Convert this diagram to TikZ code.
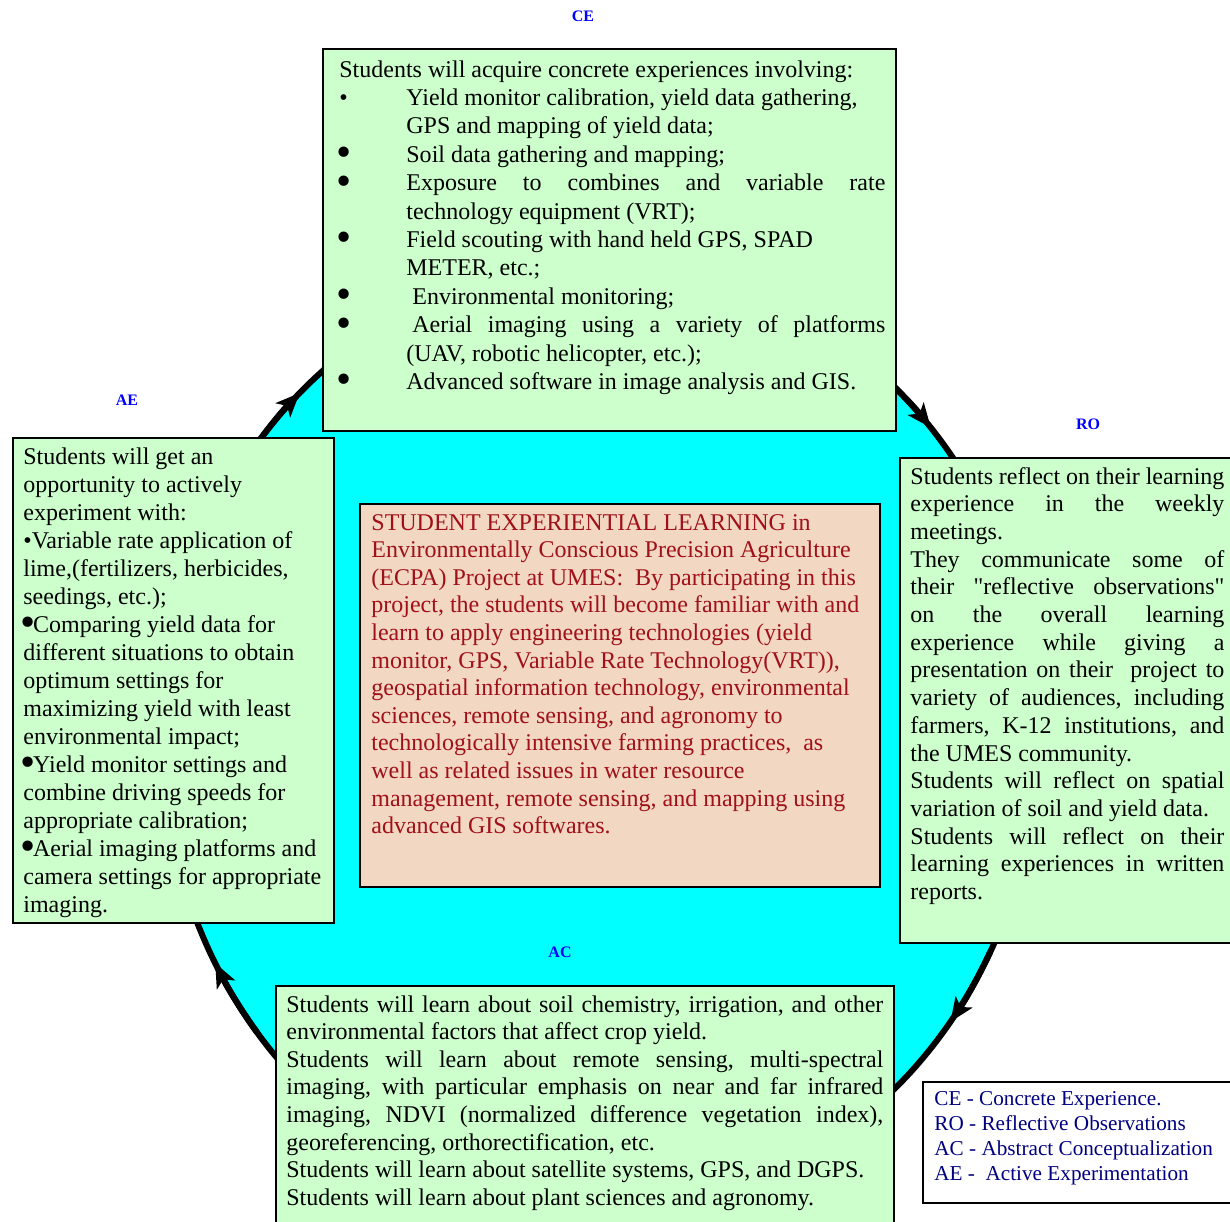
\documentclass[tikz,border=0pt]{standalone}
\usepackage{fontspec}
\setmainfont{Liberation Serif}[Ligatures=TeXOff]
\usetikzlibrary{arrows.meta,calc}
\definecolor{gboxc}{RGB}{204,255,204}
\definecolor{peachc}{RGB}{242,215,194}
\definecolor{redtxt}{RGB}{160,16,24}
\definecolor{navytxt}{RGB}{0,0,128}
\definecolor{labblue}{RGB}{0,0,255}
\definecolor{cyanc}{RGB}{0,255,255}
\newcommand{\jl}[2]{{\spaceskip=0pt\xspaceskip=0pt\makebox[#1][s]{#2}}}
\newcommand{\bigbul}{\hspace*{-1.5pt}\raisebox{-2.2pt}{\scalebox{1.8}{•}}\hspace{-1.2pt}}
\newcommand{\bulc}[1]{\makebox[33.5pt][l]{#1}}
\newcommand{\nsp}{\spaceskip=0pt\xspaceskip=0pt\frenchspacing}
\begin{document}
\begin{tikzpicture}[x=0.5pt,y=-0.5pt,
  gbox/.style={draw=black, line width=1pt, fill=gboxc, anchor=north west, inner sep=0pt},
  pbox/.style={draw=black, line width=1pt, fill=peachc, anchor=north west, inner sep=0pt},
  lbox/.style={draw=black, line width=1.2pt, fill=white, anchor=north west, inner sep=0pt},
  txt/.style={anchor=base west, inner sep=0pt, execute at begin node=\nsp},
  lab/.style={text=labblue, font=\fontsize{8pt}{9pt}\selectfont\bfseries, inner sep=0pt},
  cyc/.style={line width=3pt, draw=black}]
\useasboundingbox (0,0) rectangle (1230,1221);
% cycle
\draw[cyc, fill=cyanc] (600,738) ellipse [x radius=218.5pt, y radius=237.5pt];
\foreach \a in {133.4,40.8,-36.7,-151.7}
  \draw[cyc, -{Stealth[length=12pt,width=10pt,inset=3pt]}] ($(600,738)+(\a+10:218.5pt and 237.5pt)$)
     arc[start angle=\a+10, end angle=\a, x radius=218.5pt, y radius=237.5pt];
% labels
\node[lab] (lce) at (583,16) {CE};
\node[lab] (lae) at (127,400) {AE};
\node[lab] (lro) at (1088,424) {RO};
\node[lab] (lac) at (560,952) {AC};
% CE box
\node[gbox, minimum width=286.5pt, minimum height=191pt] (ce) at (322,48) {};
\node[txt, text width=274pt, font=\fontsize{12pt}{14.2pt}\selectfont] (ceT) at (339,77) {%
Students will acquire concrete experiences involving:\\
\bulc{•}Yield monitor calibration, yield data gathering,\\
\hspace*{33.5pt}GPS and mapping of yield data;\\
\bulc{\bigbul}Soil data gathering and mapping;\\
\bulc{\bigbul}\jl{239.5pt}{Exposure to combines and variable rate}\\
\hspace*{33.5pt}technology equipment (VRT);\\
\bulc{\bigbul}Field scouting with hand held GPS, SPAD\\
\hspace*{33.5pt}METER, etc.;\\
\bulc{\bigbul}\hspace*{3pt}Environmental monitoring;\\
\bulc{\bigbul}\hspace*{3pt}\jl{236.5pt}{Aerial imaging using a variety of platforms}\\
\hspace*{33.5pt}(UAV, robotic helicopter, etc.);\\
\bulc{\bigbul}Advanced software in image analysis and GIS.};
% AE box
\node[gbox, minimum width=160.5pt, minimum height=242.5pt] (ae) at (12,437) {};
\node[txt, text width=156pt, font=\fontsize{12pt}{14pt}\selectfont] (aeT) at (23,464) {%
Students will get an\\
opportunity to actively\\
experiment with:\\
•Variable rate application of\\
lime,(fertilizers, herbicides,\\
seedings, etc.);\\
\bigbul Comparing yield data for\\
different situations to obtain\\
optimum settings for\\
maximizing yield with least\\
environmental impact;\\
\bigbul Yield monitor settings and\\
combine driving speeds for\\
appropriate calibration;\\
\bigbul Aerial imaging platforms and\\
camera settings for appropriate\\
imaging.};
% RO box
\node[gbox, minimum width=166.5pt, minimum height=242.5pt] (ro) at (899,457) {};
\node[txt, text width=157pt, font=\fontsize{12pt}{13.85pt}\selectfont] (roT) at (910,484) {%
\jl{157pt}{Students reflect on their learning}\\
\jl{157pt}{experience in the weekly}\\
meetings.\\
\jl{157pt}{They communicate some of}\\
\jl{157pt}{their "reflective observations"}\\
\jl{157pt}{on the overall learning}\\
\jl{157pt}{experience while giving a}\\
\jl{157pt}{presentation on their\ \ project to}\\
\jl{157pt}{variety of audiences, including}\\
\jl{157pt}{farmers, K-12 institutions, and}\\
the UMES community.\\
\jl{157pt}{Students will reflect on spatial}\\
variation of soil and yield data.\\
\jl{157pt}{Students will reflect on their}\\
\jl{157pt}{learning experiences in written}\\
reports.};
% centre box
\node[pbox, minimum width=260pt, minimum height=191.5pt] (ctr) at (359,503) {};
\node[txt, text width=252pt, text=redtxt, font=\fontsize{12pt}{13.8pt}\selectfont] (ctrT) at (371,530) {%
STUDENT EXPERIENTIAL LEARNING in\\
Environmentally Conscious Precision Agriculture\\
(ECPA) Project at UMES:\ \ By participating in this\\
project, the students will become familiar with and\\
learn to apply engineering technologies (yield\\
monitor, GPS, Variable Rate Technology(VRT)),\\
geospatial information technology, environmental\\
sciences, remote sensing, and agronomy to\\
technologically intensive farming practices,\ \ as\\
well as related issues in water resource\\
management, remote sensing, and mapping using\\
advanced GIS softwares.};
% AC box
\node[gbox, minimum width=309pt, minimum height=120pt] (ac) at (275,985) {};
\node[txt, text width=298.5pt, font=\fontsize{12pt}{13.8pt}\selectfont] (acT) at (286,1012) {%
\jl{298.5pt}{Students will learn about soil chemistry, irrigation, and other}\\
environmental factors that affect crop yield.\\
\jl{298.5pt}{Students will learn about remote sensing, multi-spectral}\\
\jl{298.5pt}{imaging, with particular emphasis on near and far infrared}\\
\jl{298.5pt}{imaging, NDVI (normalized difference vegetation index),}\\
georeferencing, orthorectification, etc.\\
Students will learn about satellite systems, GPS, and DGPS.\\
Students will learn about plant sciences and agronomy.};
% legend
\node[lbox, minimum width=155pt, minimum height=60.5pt] (leg) at (922,1081) {};
\node[txt, text width=145pt, text=navytxt, font=\fontsize{10.6pt}{12.5pt}\selectfont] (legT) at (934,1105) {%
CE - Concrete Experience.\\
RO - Reflective Observations\\
AC - Abstract Conceptualization\\
AE -\ \ Active Experimentation};
\end{tikzpicture}
\end{document}
